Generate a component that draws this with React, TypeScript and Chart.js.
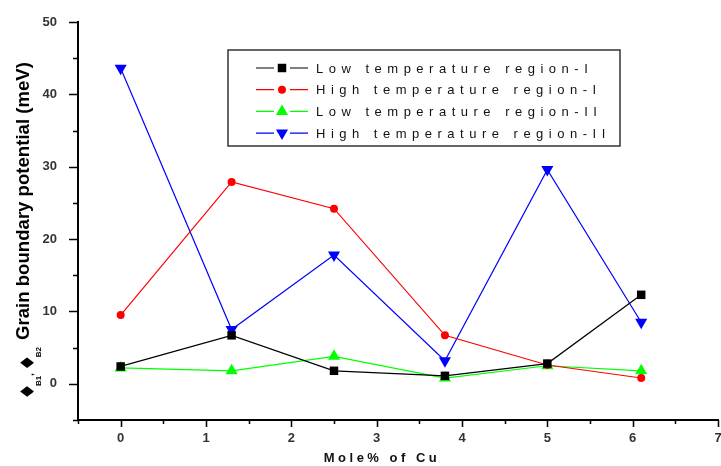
import React, { useEffect, useRef } from 'react';
import { Chart, registerables } from 'chart.js';

Chart.register(...registerables);

const xValues = [0, 1.3, 2.5, 3.8, 5, 6.1];
const lowTempI = [2.4, 6.7, 1.8, 1.1, 2.8, 12.3];
const highTempI = [9.5, 27.9, 24.2, 6.7, 2.6, 0.8];
const lowTempII = [2.2, 1.8, 3.8, 0.8, 2.5, 1.8];
const highTempII = [43.6, 7.5, 17.8, 3.2, 29.6, 8.5];
const seriesLabels = [
  'Low temperature region-I',
  'High temperature region-I',
  'Low temperature region-II',
  'High temperature region-II',
];
const xTitle = 'Mole% of Cu';
const yTitle = 'Grain boundary potential (meV)';
const phiSymbol = '♦';

const FONT = '"Liberation Sans", Arial, sans-serif';

const toPoints = (ys: number[]) => xValues.map((x, i) => ({ x, y: ys[i] }));

function drawMarker(ctx: CanvasRenderingContext2D, style: string, r: number, rot: number, x: number, y: number) {
  ctx.beginPath();
  if (style === 'rect') {
    const s = r * Math.SQRT1_2;
    ctx.rect(x - s, y - s, 2 * s, 2 * s);
  } else if (style === 'circle') {
    ctx.arc(x, y, r, 0, Math.PI * 2);
  } else {
    let a = (rot * Math.PI) / 180;
    ctx.moveTo(x + Math.sin(a) * r, y - Math.cos(a) * r);
    a += (2 * Math.PI) / 3;
    ctx.lineTo(x + Math.sin(a) * r, y - Math.cos(a) * r);
    a += (2 * Math.PI) / 3;
    ctx.lineTo(x + Math.sin(a) * r, y - Math.cos(a) * r);
    ctx.closePath();
  }
  ctx.fill();
}

const decorPlugin = {
  id: 'decor',
  afterDraw(chart: any) {
    const ctx: CanvasRenderingContext2D = chart.ctx;
    const xs = chart.scales.x;
    const ys = chart.scales.y;
    const area = chart.chartArea;
    ctx.save();
    // tick marks
    ctx.strokeStyle = '#000';
    ctx.lineWidth = 1.5;
    for (let i = 0; i <= 15; i++) {
      const v = -0.5 + i * 0.5;
      const px = Math.round(xs.getPixelForValue(v)) + 0.5;
      const major = Number.isInteger(v);
      ctx.beginPath();
      ctx.moveTo(px, area.bottom);
      ctx.lineTo(px, area.bottom + (major ? 7 : 4));
      ctx.stroke();
    }
    for (let i = 0; i <= 11; i++) {
      const v = -5 + i * 5;
      const py = Math.round(ys.getPixelForValue(v)) + 0.5;
      const major = v % 10 === 0;
      ctx.beginPath();
      ctx.moveTo(area.left, py);
      ctx.lineTo(area.left - (major ? 9 : 5), py);
      ctx.stroke();
    }

    // x title
    ctx.fillStyle = '#111';
    ctx.font = `bold 13px ${FONT}`;
    (ctx as any).letterSpacing = '3.5px';
    ctx.textAlign = 'center';
    ctx.textBaseline = 'alphabetic';
    ctx.fillText(xTitle, 382, 462);
    (ctx as any).letterSpacing = '0px';

    // y title (rotated)
    ctx.save();
    ctx.translate(0, 400);
    ctx.rotate(-Math.PI / 2);
    ctx.textAlign = 'left';
    ctx.fillStyle = '#000';
    let pos = 0;
    const drawPart = (t: string, font: string, base: number) => {
      ctx.font = font;
      ctx.fillText(t, pos, base);
      pos += ctx.measureText(t).width;
    };
    drawPart(phiSymbol, `bold 19px "DejaVu Sans"`, 34);
    pos -= 3;
    drawPart('B1', `bold 8px ${FONT}`, 41);
    drawPart(',', `bold 9px ${FONT}`, 33);
    pos += 2;
    drawPart(phiSymbol, `bold 19px "DejaVu Sans"`, 34);
    pos -= 3;
    drawPart('B2', `bold 8px ${FONT}`, 41);
    pos += 7;
    drawPart(yTitle, `bold 18.6px ${FONT}`, 29);
    ctx.restore();

    // legend
    const lx = 228, ly = 50, lw = 392, lh = 96;
    ctx.strokeStyle = '#333';
    ctx.lineWidth = 1.5;
    ctx.strokeRect(lx, ly, lw, lh);
    chart.data.datasets.forEach((ds: any, i: number) => {
      const cy = 68 + i * 21.7;
      ctx.strokeStyle = ds.borderColor;
      ctx.lineWidth = 1.2;
      ctx.beginPath();
      ctx.moveTo(256, cy);
      ctx.lineTo(274, cy);
      ctx.moveTo(290, cy);
      ctx.lineTo(308, cy);
      ctx.stroke();
      ctx.fillStyle = ds.pointBackgroundColor;
      drawMarker(ctx, ds.pointStyle, ds.pointRadius, ds.pointRotation || 0, 282, cy);
      ctx.fillStyle = '#111';
      ctx.font = `13px ${FONT}`;
      (ctx as any).letterSpacing = '5.5px';
      ctx.textAlign = 'left';
      ctx.textBaseline = 'middle';
      ctx.fillText(ds.label, 316, cy + 1);
      (ctx as any).letterSpacing = '0px';
    });
    ctx.restore();
  },
};

export default function App() {
  const ref = useRef<HTMLCanvasElement | null>(null);
  useEffect(() => {
    document.body.style.margin = '0';
    const canvas = ref.current;
    if (!canvas) return;
    const mk = (label: string, data: number[], color: string, style: string, radius: number, rotation = 0) => ({
      label,
      data: toPoints(data),
      borderColor: color,
      backgroundColor: color,
      pointBackgroundColor: color,
      pointBorderColor: color,
      pointBorderWidth: 0,
      borderWidth: 1.2,
      pointStyle: style,
      pointRadius: radius,
      pointRotation: rotation,
      showLine: true,
      tension: 0,
    });
    const chart = new Chart(canvas, {
      type: 'scatter',
      data: {
        datasets: [
          mk(seriesLabels[0], lowTempI, '#000000', 'rect', 6),
          mk(seriesLabels[1], highTempI, '#ff0000', 'circle', 4),
          mk(seriesLabels[2], lowTempII, '#00ff00', 'triangle', 7),
          mk(seriesLabels[3], highTempII, '#0000ff', 'triangle', 7, 180),
        ] as any,
      },
      options: {
        responsive: false,
        animation: false,
        devicePixelRatio: 1,
        layout: { padding: { top: 22, right: 0, left: 0, bottom: 0 } },
        plugins: {
          legend: { display: false },
          title: { display: false },
          tooltip: { enabled: false },
        },
        scales: {
          x: {
            type: 'linear',
            min: -0.5,
            max: 7,
            grid: { display: false, drawTicks: false },
            border: { display: true, color: '#000', width: 2 },
            ticks: {
              stepSize: 0.5,
              autoSkip: false,
              maxRotation: 0,
              padding: 11,
              color: '#333',
              font: { family: FONT, size: 13, weight: 'bold' },
              callback: (v: any) => (Number.isInteger(v) ? String(v) : ''),
            },
            afterFit: (s: any) => { s.height = 46; s.paddingLeft = 0; s.paddingRight = 0; },
          },
          y: {
            type: 'linear',
            min: -5,
            max: 50,
            grid: { display: false, drawTicks: false },
            border: { display: true, color: '#000', width: 2 },
            ticks: {
              stepSize: 5,
              autoSkip: false,
              padding: 21,
              color: '#333',
              font: { family: FONT, size: 13, weight: 'bold' },
              callback: (v: any) => (v % 10 === 0 ? String(v) : ''),
            },
            afterFit: (s: any) => { s.width = 78; s.paddingTop = 0; s.paddingBottom = 0; },
          },
        },
      } as any,
      plugins: [decorPlugin],
    });
    return () => chart.destroy();
  }, []);
  return (
    <div style={{ position: 'absolute', left: 0, top: 0, width: 721, height: 466, overflow: 'hidden', background: '#fff' }}>
      <canvas ref={ref} width={725} height={466} />
    </div>
  );
}
